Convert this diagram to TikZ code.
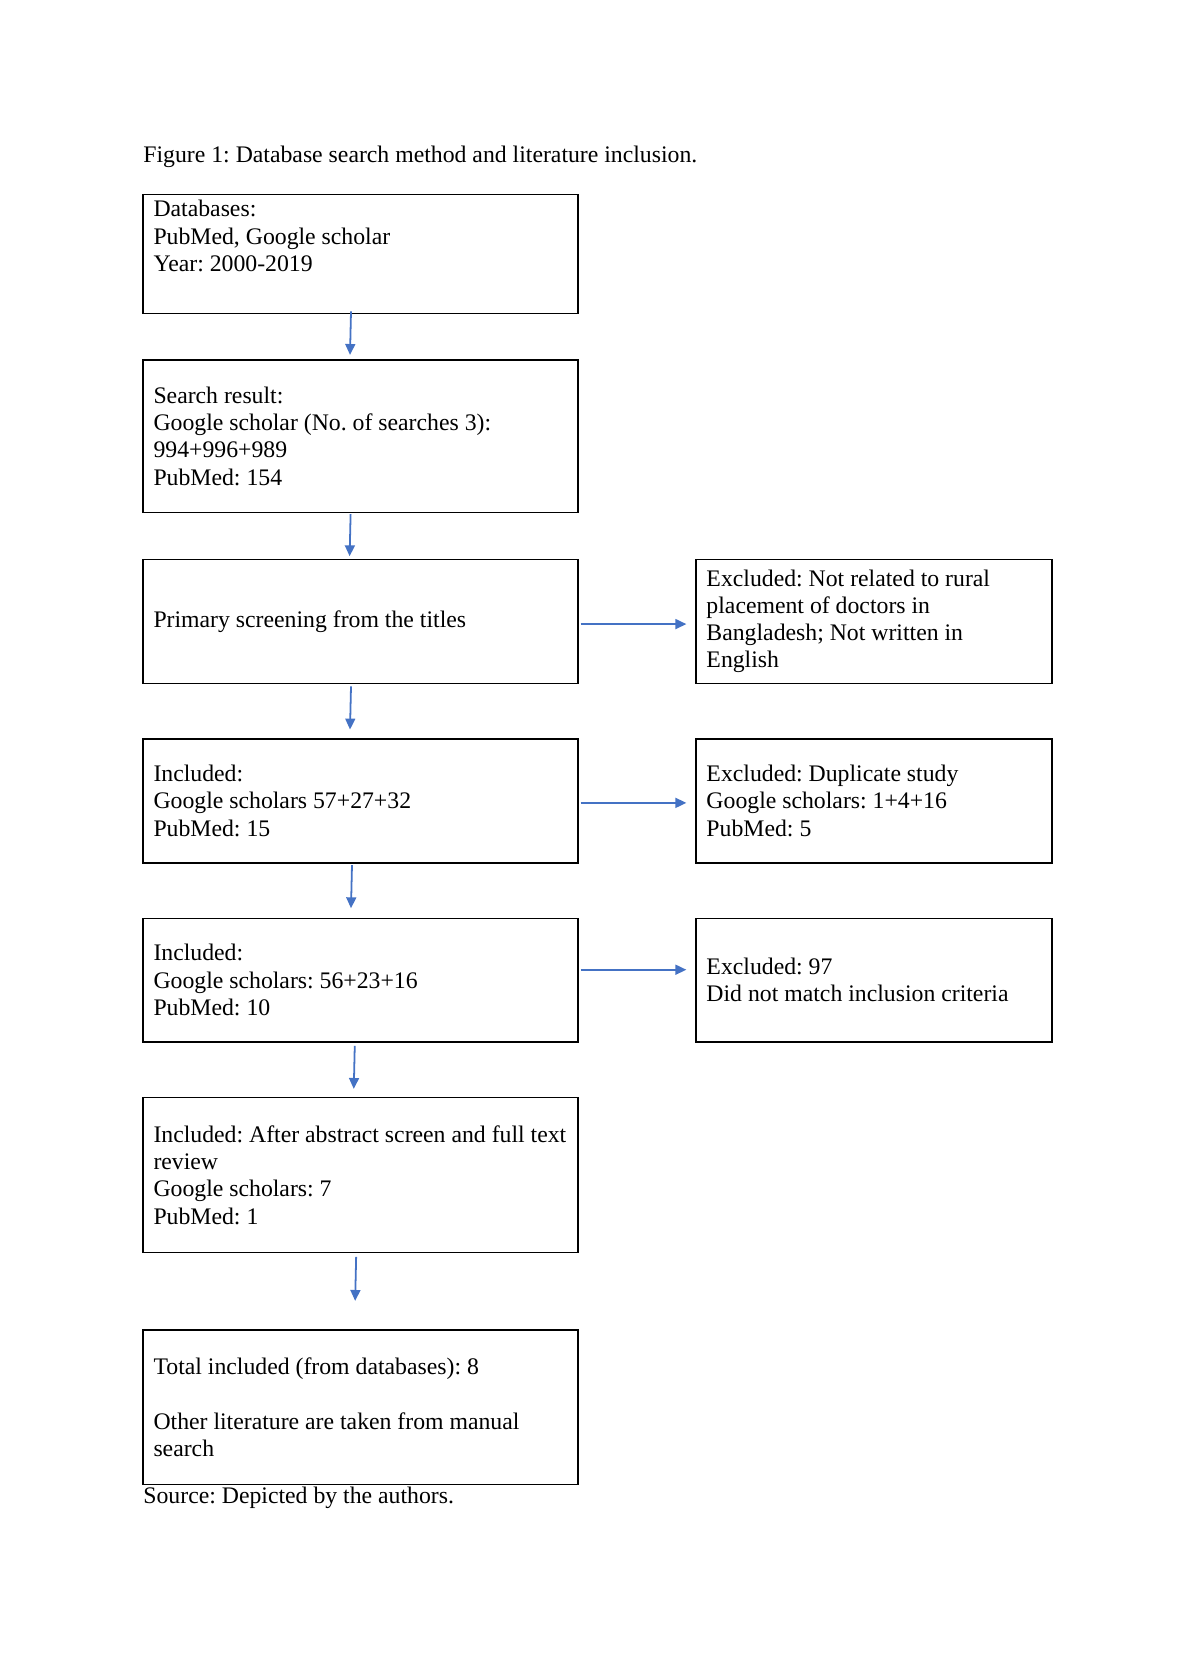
\documentclass[tikz,border=0pt]{standalone}
\usepackage{fontspec}
\setmainfont{Liberation Serif}
\usepackage{tikz}
\usetikzlibrary{arrows.meta}
\definecolor{wordblue}{RGB}{68,114,196}
\frenchspacing

\begin{document}
\begin{tikzpicture}[
        x=0.50533pt, y=-0.50533pt,
        every node/.style={font=\fontsize{12pt}{13.8pt}\selectfont},
        caption/.style={anchor=west, inner sep=0pt},
        box/.style={draw, line width=0.75pt, align=left, inner xsep=5.3pt, inner ysep=0pt,
            execute at begin node={\spaceskip=0pt\xspaceskip=0pt}},
        leftbox/.style={box, text width=209.2pt},
        rightbox/.style={box, text width=169.3pt},
        arr/.style={wordblue, line width=0.9pt, -{Triangle[length=5.5pt, width=5pt]}}
    ]
        \useasboundingbox (0, 0) rectangle (1178, 1667);
        \node[caption] (title) at (143, 157) {Figure 1: Database search method and literature inclusion.};
        \node[leftbox, minimum height=60.1pt] (db) at (360.5, 253.8) {Databases:\\PubMed, Google scholar\\Year: 2000-2019\\[4.4pt] \mbox{}};
        \node[leftbox, minimum height=77pt] (res) at (360.5, 436.2) {Search result:\\Google scholar (No. of searches 3):\\994+996+989\\PubMed: 154};
        \node[leftbox, minimum height=62.6pt] (prim) at (360.5, 621.3) {Primary screening from the titles};
        \node[leftbox, minimum height=62.6pt] (incA) at (360.5, 800.9) {Included:\\Google scholars 57+27+32\\PubMed: 15};
        \node[leftbox, minimum height=62.6pt] (incB) at (360.5, 980.2) {Included:\\Google scholars: 56+23+16\\PubMed: 10};
        \node[leftbox, minimum height=78.1pt] (incC) at (360.5, 1175) {Included: After abstract screen and full text\\review\\Google scholars: 7\\PubMed: 1};
        \node[leftbox, minimum height=78.1pt] (total) at (360.5, 1407.2) {Total included (from databases): 8\\[13.8pt]Other literature are taken from manual\\search};
        \node[caption] (src) at (143, 1498) {Source: Depicted by the authors.};
        \node[rightbox, minimum height=62.6pt] (exA) at (874, 621.3) {Excluded: Not related to rural\\placement of doctors in\\Bangladesh; Not written in\\English};
        \node[rightbox, minimum height=62.6pt] (exB) at (874, 800.9) {Excluded: Duplicate study\\Google scholars: 1+4+16\\PubMed: 5};
        \node[rightbox, minimum height=62.6pt] (exC) at (874, 980.2) {Excluded: 97\\Did not match inclusion criteria};
        \draw[arr] ([xshift=-4.8pt, yshift=1.3pt]db.south) -- ([xshift=-5.3pt, yshift=2.2pt]res.north);
        \draw[arr] ([xshift=-5pt, yshift=-0.5pt]res.south) -- ([xshift=-5.5pt, yshift=1.2pt]prim.north);
        \draw[arr] ([xshift=-4.8pt, yshift=-1.2pt]prim.south) -- ([xshift=-5.3pt, yshift=4.4pt]incA.north);
        \draw[arr] ([xshift=-4.3pt, yshift=-0.8pt]incA.south) -- ([xshift=-4.8pt, yshift=4.7pt]incB.north);
        \draw[arr] ([xshift=-2.9pt, yshift=-1.5pt]incB.south) -- ([xshift=-3.4pt, yshift=4.1pt]incC.north);
        \draw[arr] ([xshift=-2.2pt, yshift=-1.9pt]incC.south) -- ([xshift=-2.7pt, yshift=14.3pt]total.north);
        \draw[arr] ([xshift=1pt, yshift=-1.4pt]prim.east) -- ([xshift=-4.5pt, yshift=-1.4pt]exA.west);
        \draw[arr] ([xshift=1pt, yshift=-1pt]incA.east) -- ([xshift=-4.5pt, yshift=-1pt]exB.west);
        \draw[arr] ([xshift=1pt, yshift=5.3pt]incB.east) -- ([xshift=-4.5pt, yshift=5.3pt]exC.west);
    \end{tikzpicture}
\end{document}
